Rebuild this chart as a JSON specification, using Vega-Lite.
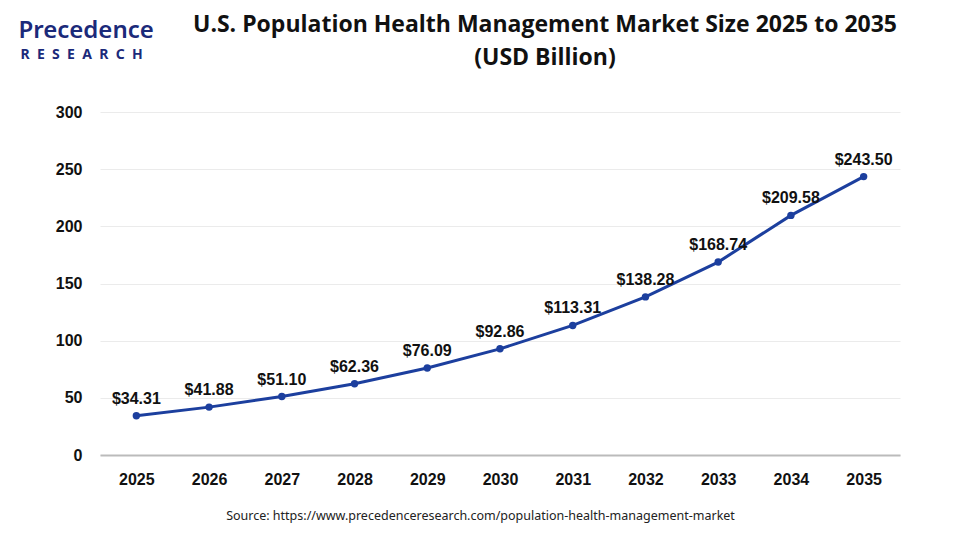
{
  "$schema": "https://vega.github.io/schema/vega-lite/v6.json",
  "autosize": "none",
  "width": 800,
  "height": 343,
  "padding": {"left": 100, "top": 112, "right": 60, "bottom": 85},
  "background": "white",
  "config": {"view": {"stroke": null}},
  "title": {
    "text": ["U.S. Population Health Management Market Size 2025 to 2035", "(USD Billion)"],
    "anchor": "middle",
    "frame": "group",
    "dx": 45,
    "offset": -52,
    "font": "Open Sans",
    "fontSize": 23,
    "fontWeight": "bold",
    "color": "#111111",
    "lineHeight": 33
  },
  "data": {
    "values": [
      {"year": "2025", "value": 34.31, "label": "$34.31"},
      {"year": "2026", "value": 41.88, "label": "$41.88"},
      {"year": "2027", "value": 51.10, "label": "$51.10"},
      {"year": "2028", "value": 62.36, "label": "$62.36"},
      {"year": "2029", "value": 76.09, "label": "$76.09"},
      {"year": "2030", "value": 92.86, "label": "$92.86"},
      {"year": "2031", "value": 113.31, "label": "$113.31"},
      {"year": "2032", "value": 138.28, "label": "$138.28"},
      {"year": "2033", "value": 168.74, "label": "$168.74"},
      {"year": "2034", "value": 209.58, "label": "$209.58"},
      {"year": "2035", "value": 243.50, "label": "$243.50"}
    ]
  },
  "encoding": {
    "x": {
      "field": "year",
      "type": "ordinal",
      "scale": {"type": "point", "padding": 0.5},
      "axis": {
        "labelAngle": 0,
        "labelFont": "Liberation Sans",
        "labelFontSize": 16,
        "labelFontWeight": "bold",
        "labelColor": "#111111",
        "labelPadding": 16,
        "ticks": false,
        "domainColor": "#bbbbbb",
        "domainWidth": 2,
        "title": "Source: https://www.precedenceresearch.com/population-health-management-market",
        "titleFont": "Noto Sans",
        "titleFontSize": 12.5,
        "titleFontWeight": "normal",
        "titleColor": "#222222",
        "titlePadding": 22,
        "titleX": 380
      }
    }
  },
  "layer": [
    {
      "mark": {"type": "line", "color": "#1c3f9e", "strokeWidth": 3, "point": {"filled": true, "size": 55, "color": "#1c3f9e"}},
      "encoding": {
        "y": {
          "field": "value",
          "type": "quantitative",
          "scale": {"domain": [0, 300]},
          "axis": {
            "values": [0, 50, 100, 150, 200, 250, 300],
            "labelFont": "Liberation Sans",
            "labelFontSize": 16,
            "labelFontWeight": "bold",
            "labelColor": "#111111",
            "labelPadding": 18,
            "ticks": false,
            "domain": false,
            "gridColor": "#ebebeb",
            "title": "Precedence",
            "titleAngle": 0,
            "titleX": -82,
            "titleY": -82,
            "titleAlign": "left",
            "titleBaseline": "middle",
            "titleFont": "Noto Sans",
            "titleFontSize": 24,
            "titleFontWeight": 600,
            "titleColor": "#1b2a7a"
          }
        }
      }
    },
    {
      "mark": {"type": "text", "font": "Liberation Sans", "fontSize": 16, "fontWeight": "bold", "color": "#111111", "baseline": "bottom", "dy": -9},
      "encoding": {
        "y": {
          "field": "value",
          "type": "quantitative",
          "scale": {"domain": [0, 300]},
          "axis": {
            "orient": "right",
            "labels": false,
            "ticks": false,
            "domain": false,
            "grid": false,
            "title": "R\u00a0\u00a0E\u00a0\u00a0S\u00a0\u00a0E\u00a0\u00a0A\u00a0\u00a0R\u00a0\u00a0C\u00a0\u00a0H",
            "titleAngle": 0,
            "titleX": -880,
            "titleY": -58,
            "titleAlign": "left",
            "titleBaseline": "middle",
            "titleFont": "Noto Sans",
            "titleFontSize": 14,
            "titleFontWeight": "bold",
            "titleColor": "#1b2a7a"
          }
        },
        "text": {"field": "label"}
      }
    }
  ],
  "resolve": {"scale": {"y": "independent"}, "axis": {"y": "independent"}}
}
